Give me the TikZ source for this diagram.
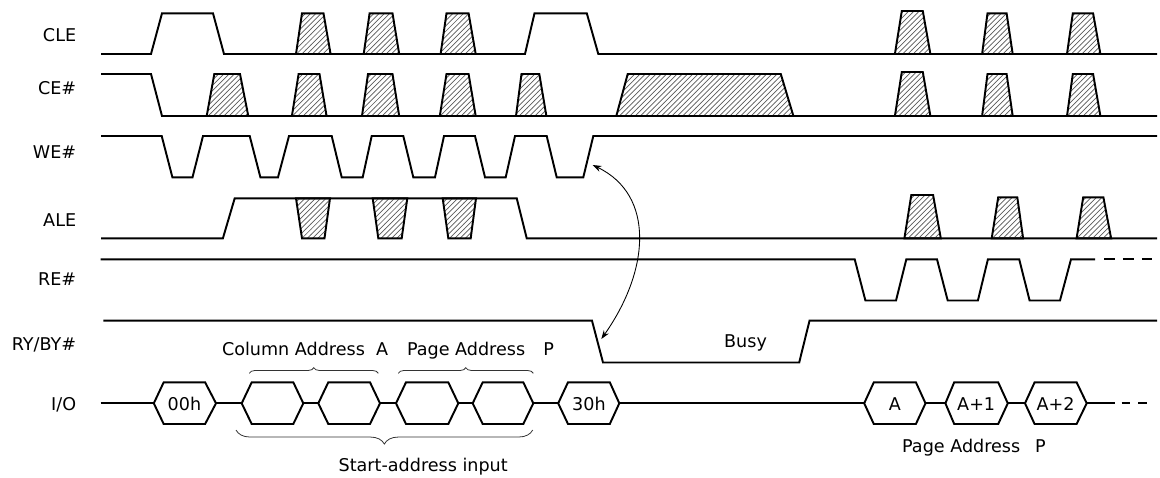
\documentclass[tikz,border=0pt]{standalone}
\usepackage{fontspec}
\setmainfont{DejaVu Sans}
\usepackage{tikz}
\usetikzlibrary{patterns,arrows.meta,decorations.pathreplacing}
\tikzset{
        sig/.style={line width=1.1pt, line join=miter},
        hatched/.style={sig, pattern=north east lines, pattern color=black!65},
        hexa/.style={sig, fill=white},
        lbl/.style={anchor=base east, inner sep=0pt},
        txt/.style={anchor=base west, inner sep=0pt},
        brc/.style={decorate, decoration={brace, amplitude=#1}, line width=0.45pt, black!80}
    }

\begin{document}
\begin{tikzpicture}[x=0.02cm, y=-0.02cm, font=\fontsize{10}{12}\selectfont]
\useasboundingbox (0,0) rectangle (1160,477);

\draw (76.5,41.5) node(CLE)[lbl]{CLE};
\draw (76.5,94.7) node(CE)[lbl]{CE\#};
\draw (76.5,158) node(WE)[lbl]{WE\#};
\draw (76.5,226.5) node(ALE)[lbl]{ALE};
\draw (76.5,285) node(RE)[lbl]{RE\#};
\draw (76.5,350) node(RY)[lbl]{RY/BY\#};
\draw (76.5,410.7) node(IO)[lbl]{I/O};

% CLE
\draw[sig] (101,54) -- (151,54) -- (162,13.3) -- (213,13.3) -- (224,54) -- (525,54) -- (534.5,13.3) -- (586.8,13.3) -- (598.3,54) -- (1157,54);
\foreach \a/\b/\c/\d/\t in {296/302/323.5/330.6/13.3, 363.7/369.6/392.5/399.2/13.3, 440.6/446.5/468.6/475.7/13.3, 894.9/901.8/922.8/930.4/11, 982.1/987.5/1006.6/1012.7/13.3, 1067/1072.8/1093.1/1100.4/13.3}
  \draw[hatched] (\a,54) -- (\b,\t) -- (\c,\t) -- (\d,54) -- cycle;

% CE#
\draw[sig] (101,74) -- (151,74) -- (162,116) -- (1157,116);
\foreach \a/\b/\c/\d/\t in {206.7/214.3/240/248.3/74, 291.9/298.6/319.5/326.6/74, 362/368/392.5/399.2/74, 439.8/446.5/468.6/475.7/74, 516/521.5/539.3/546.4/74, 616.3/627.7/780.8/793.4/74, 894.9/901.8/922.8/930.4/72, 982.1/987.5/1006.6/1012.7/74, 1067/1072.8/1093.1/1100.4/74}
  \draw[hatched] (\a,116) -- (\b,\t) -- (\c,\t) -- (\d,116) -- cycle;

% WE#
\draw[sig] (101,136) -- (161.7,136) -- (172.4,177.3) -- (192.5,177.3) -- (203,136) -- (249.7,136) -- (260.4,177.3) -- (278,177.3) -- (289,136) -- (331.7,136) -- (341.7,177.3) -- (362.7,177.3) -- (371.7,136) -- (403.3,136) -- (413.3,177.3) -- (435,177.3) -- (444,136) -- (475,136) -- (485,177.3) -- (505.7,177.3) -- (515,136) -- (546.7,136) -- (556.7,177.3) -- (583.3,177.3) -- (593.3,136) -- (1157,136);

% ALE
\draw[sig] (101,238.3) -- (222.9,238.3) -- (234.7,198.3) -- (516.7,198.3) -- (526.7,238.3) -- (1157,238.3);
\foreach \a/\b/\c/\d in {296/302/324.5/330, 372.7/378.3/401.7/407.3, 442.7/448.3/470.7/476}
  \draw[hatched] (\a,198.3) -- (\b,238.3) -- (\c,238.3) -- (\d,198.3) -- cycle;
\foreach \a/\b/\c/\d/\t in {904.4/911.3/933.1/940.8/195, 991.7/998.2/1017.3/1023.1/197.3, 1076.6/1083.2/1103.4/1111.1/197.3}
  \draw[hatched] (\a,238.3) -- (\b,\t) -- (\c,\t) -- (\d,238.3) -- cycle;

% RE#
\draw[sig] (100.7,259.3) -- (854.7,259.3) -- (865.4,300.5) -- (896,300.5) -- (906.3,259.3) -- (937,259.3) -- (947.7,300.5) -- (977.9,300.5) -- (987.9,259.3) -- (1019.2,259.3) -- (1029.6,300.5) -- (1060,300.5) -- (1071,259.3) -- (1095,259.3);
\draw[sig, dash pattern=on 6.3pt off 4.5pt] (1104,259.3) -- (1152,259.3);

% RY/BY#
\draw[sig] (103.3,320.7) -- (592,320.7) -- (603,362.5) -- (799.2,362.5) -- (809.5,320.7) -- (1157,320.7);
\draw (723.8,347.3) node(BUSY)[txt]{Busy};

% I/O
\draw[sig] (100.7,403.3) -- (1115,403.3);
\draw[sig, dash pattern=on 4.8pt off 4.6pt] (1121.7,403.3) -- (1152,403.3);
\foreach \a/\b/\c/\d/\n/\t in {153.8/163.7/205.1/216/HX1/00h, 241.7/251.7/293.3/303.3/HX2/, 318.3/328.3/370/380/HX3/, 396/406/448.3/458.3/HX4/, 472.7/482.7/523.3/533.3/HX5/, 558.2/568/609.8/619.3/HX6/30h, 864.2/873.8/915.9/925.5/HXA/A, 945.4/954.2/998.2/1007.8/HXB/A+1, 1025/1034.6/1076.6/1086.7/HXC/A+2}
{
  \draw[hexa] (\a,403.3) -- (\b,382.3) -- (\c,382.3) -- (\d,403.3) -- (\c,424) -- (\b,424) -- cycle;
  \path ({(\b+\c)/2},410) node(\n)[anchor=base, inner sep=0pt]{\t};
}

\draw[brc=3.2pt] (249.3,373.3) -- (378.3,373.3);
\draw[brc=3.2pt] (398.3,373.3) -- (533.3,373.3);
\draw[brc=8pt] (532.7,430) -- (236,430);
\draw (221.7,355) node(COLA)[txt]{Column Address\ \ A};
\draw (406.7,355) node(PAGEA)[txt]{Page Address\hspace{10.4pt}P};
\draw (338.3,471.7) node(START)[txt]{Start-address input};
\draw (901.8,452.3) node(PAGEB)[txt]{Page Address\hspace{8.4pt}P};

\coordinate (WETIP) at (592.7,165);
\coordinate (RYTIP) at (601.3,339);
\draw[{Stealth[length=5pt,width=3.5pt]}-{Stealth[length=5pt,width=3.5pt]}, line width=0.5pt] (WETIP) .. controls (655,195) and (650,270) .. (RYTIP);

\end{tikzpicture}
\end{document}
